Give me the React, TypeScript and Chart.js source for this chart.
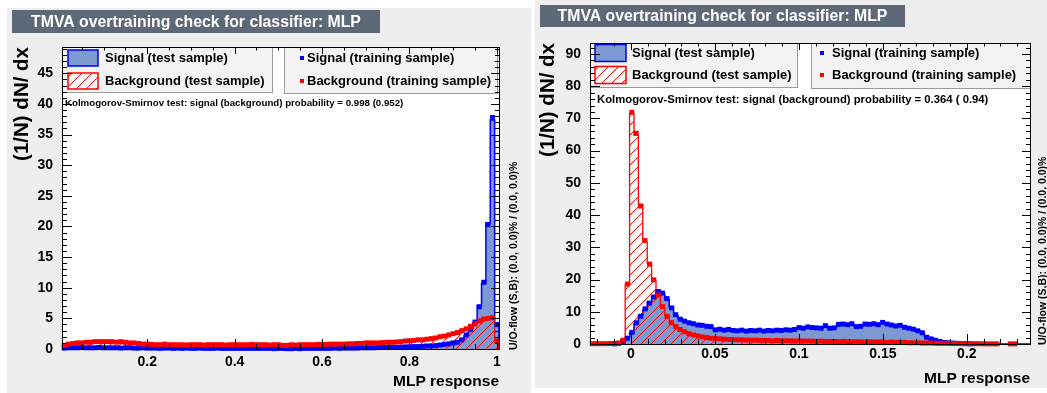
import React, { useEffect, useRef } from "react";
import { Chart, registerables } from "chart.js";

Chart.register(...registerables);

const FONT = '"Liberation Sans", Arial, Helvetica, sans-serif';

// ---------------- Left panel data (100 bins, MLP response 0.005 .. 1.005) ----------------
const leftRange = [0.005, 1.005];
const leftYMax = 49.3;

const leftSignalTest = [
  0.2, 0.2, 0.15, 0.25, 0.2, 0.2, 0.25, 0.2, 0.2, 0.2,
  0.15, 0.2, 0.2, 0.2, 0.15, 0.2, 0.2, 0.15, 0.15, 0.15,
  0.15, 0.1, 0.15, 0.15, 0.1, 0.15, 0.1, 0.15, 0.1, 0.1,
  0.15, 0.1, 0.1, 0.1, 0.15, 0.1, 0.1, 0.1, 0.1, 0.1,
  0.1, 0.1, 0.1, 0.05, 0.1, 0.1, 0.1, 0.1, 0.1, 0.1,
  0.05, 0.1, 0.1, 0.05, 0.1, 0.1, 0.1, 0.05, 0.1, 0.1,
  0.1, 0.15, 0.1, 0.15, 0.1, 0.15, 0.15, 0.2, 0.15, 0.2,
  0.2, 0.25, 0.2, 0.25, 0.3, 0.25, 0.3, 0.35, 0.3, 0.35,
  0.4, 0.45, 0.45, 0.5, 0.55, 0.6, 0.7, 0.8, 0.9, 1.1,
  1.2, 1.6, 2.2, 3.3, 4.3, 7.1, 10.7, 20.6, 37.4, 4.2,
];
const leftBackgroundTest = [
  0.7, 0.8, 1.0, 0.9, 1.1, 1.0, 1.2, 1.1, 1.2, 1.3,
  1.1, 1.2, 1.2, 1.1, 1.0, 1.1, 0.9, 0.9, 0.9, 0.7,
  0.7, 0.75, 0.7, 0.7, 0.75, 0.65, 0.7, 0.7, 0.7, 0.65,
  0.7, 0.75, 0.7, 0.65, 0.7, 0.7, 0.65, 0.7, 0.7, 0.75,
  0.65, 0.7, 0.7, 0.7, 0.7, 0.75, 0.65, 0.7, 0.7, 0.65,
  0.65, 0.6, 0.65, 0.7, 0.7, 0.65, 0.7, 0.75, 0.7, 0.8,
  0.8, 0.75, 0.8, 0.85, 0.8, 0.8, 0.9, 0.85, 0.95, 0.95,
  1.0, 1.05, 1.0, 1.1, 1.05, 1.15, 1.2, 1.2, 1.25, 1.35,
  1.45, 1.45, 1.55, 1.6, 1.75, 1.85, 1.95, 2.2, 2.3, 2.4,
  2.6, 2.9, 3.4, 3.8, 4.2, 4.5, 4.8, 4.9, 5.0, 1.4,
];
const leftSignalTrain = [
  0.15, 0.2, 0.2, 0.2, 0.25, 0.2, 0.2, 0.2, 0.25, 0.2,
  0.2, 0.2, 0.2, 0.15, 0.2, 0.2, 0.15, 0.15, 0.2, 0.15,
  0.15, 0.15, 0.1, 0.15, 0.15, 0.1, 0.15, 0.1, 0.15, 0.1,
  0.1, 0.15, 0.1, 0.1, 0.1, 0.15, 0.1, 0.1, 0.1, 0.1,
  0.1, 0.1, 0.1, 0.1, 0.1, 0.1, 0.1, 0.1, 0.05, 0.1,
  0.1, 0.05, 0.05, 0.1, 0.05, 0.1, 0.1, 0.1, 0.1, 0.1,
  0.1, 0.1, 0.15, 0.1, 0.15, 0.15, 0.15, 0.15, 0.2, 0.2,
  0.2, 0.2, 0.25, 0.25, 0.25, 0.3, 0.3, 0.3, 0.35, 0.35,
  0.4, 0.4, 0.45, 0.5, 0.5, 0.55, 0.65, 0.75, 0.85, 1.0,
  1.1, 1.5, 2.3, 3.2, 4.4, 6.9, 10.9, 20.3, 37.8, 4.0,
];
const leftBackgroundTrain = [
  0.6, 0.8, 0.9, 1.0, 1.0, 1.1, 1.1, 1.2, 1.2, 1.2,
  1.2, 1.2, 1.1, 1.2, 1.1, 1.0, 1.0, 0.9, 0.8, 0.8,
  0.75, 0.7, 0.7, 0.8, 0.7, 0.7, 0.7, 0.7, 0.65, 0.7,
  0.7, 0.7, 0.65, 0.7, 0.7, 0.7, 0.7, 0.65, 0.7, 0.7,
  0.7, 0.7, 0.7, 0.75, 0.7, 0.7, 0.7, 0.65, 0.7, 0.7,
  0.6, 0.6, 0.7, 0.65, 0.7, 0.7, 0.7, 0.7, 0.75, 0.75,
  0.75, 0.8, 0.8, 0.8, 0.8, 0.85, 0.85, 0.9, 0.9, 1.0,
  1.0, 1.0, 1.0, 1.05, 1.1, 1.1, 1.15, 1.2, 1.3, 1.35,
  1.4, 1.5, 1.5, 1.6, 1.7, 1.8, 2.0, 2.1, 2.3, 2.5,
  2.7, 3.0, 3.3, 3.7, 4.1, 4.6, 4.9, 5.0, 5.1, 1.3,
];
const leftKS = "Kolmogorov-Smirnov test: signal (background) probability = 0.998 (0.952)";

// ---------------- Right panel data (100 bins, MLP response -0.0244 .. 0.2376) ----------------
const rightRange = [-0.0244, 0.2376];
const rightYMax = 93.4;

const rightSignalTest = [
  0, 0, 0, 0, 0, 0.05, 0.15, 0.7, 2.0, 3.4,
  6.3, 8.9, 10.6, 13.0, 14.9, 16.6, 15.5, 13.8, 11.5, 8.8,
  7.9, 6.9, 6.7, 6.1, 6.0, 5.6, 5.6, 5.2, 4.3, 4.5,
  4.4, 4.3, 4.3, 4.0, 4.2, 4.1, 4.1, 4.2, 4.2, 4.1,
  4.1, 4.2, 4.2, 4.3, 4.3, 4.4, 4.4, 4.9, 5.0, 5.2,
  5.2, 4.9, 5.0, 5.5, 5.0, 5.1, 5.9, 6.0, 6.1, 6.1,
  5.5, 5.6, 6.0, 6.2, 6.2, 6.1, 6.5, 6.3, 5.8, 5.7,
  5.6, 5.3, 4.8, 4.5, 4.0, 3.6, 2.4, 1.8, 1.3, 0.9,
  0.6, 0.4, 0.3, 0.25, 0.15, 0.1, 0.05, 0.05, 0, 0,
  0, 0, 0, 0, 0, 0, 0, 0, 0, 0,
];
const rightBackgroundTest = [
  0.1, 0.1, 0.1, 0.1, 0.1, 0.2, 0.4, 1.4, 18.3, 71.5,
  64.8, 43.3, 31.6, 25.2, 19.5, 15.6, 11.2, 8.9, 6.4, 5.5,
  4.4, 3.9, 3.1, 2.7, 2.5, 2.2, 1.9, 1.8, 1.7, 1.5,
  1.5, 1.4, 1.3, 1.3, 1.3, 1.2, 1.1, 1.2, 1.1, 1.1,
  1.0, 1.1, 1.0, 1.0, 1.0, 0.9, 1.0, 0.9, 0.9, 0.9,
  0.8, 0.9, 0.8, 0.8, 0.8, 0.7, 0.8, 0.7, 0.7, 0.7,
  0.7, 0.6, 0.7, 0.6, 0.6, 0.6, 0.5, 0.6, 0.5, 0.5,
  0.5, 0.4, 0.4, 0.4, 0.35, 0.3, 0.3, 0.25, 0.2, 0.2,
  0.2, 0.15, 0.15, 0.1, 0.1, 0.1, 0.1, 0.05, 0.05, 0.05,
  0.05, 0.05, 0, 0, 0.05, 0.05, 0, 0, 0, 0,
];
const rightSignalTrain = [
  0, 0, 0, 0, 0, 0.05, 0.2, 0.6, 1.8, 3.6,
  6.6, 8.6, 10.9, 12.7, 14.6, 16.3, 15.8, 14.1, 11.2, 9.1,
  7.7, 7.1, 6.6, 6.3, 5.9, 5.8, 5.5, 5.4, 4.4, 4.6,
  4.3, 4.5, 4.2, 4.1, 4.3, 4.0, 4.2, 4.1, 4.3, 4.0,
  4.2, 4.1, 4.3, 4.2, 4.4, 4.3, 4.5, 5.1, 4.9, 5.3,
  5.1, 5.0, 4.9, 5.7, 4.9, 5.0, 6.1, 6.2, 6.0, 6.3,
  5.4, 5.5, 6.2, 6.1, 6.3, 6.0, 6.7, 6.2, 5.9, 5.6,
  5.8, 5.2, 4.9, 4.6, 4.1, 3.5, 2.1, 1.6, 1.2, 0.8,
  0.5, 0.4, 0.3, 0.2, 0.15, 0.1, 0.05, 0, 0, 0,
  0, 0, 0, 0, 0, 0, 0, 0, 0, 0,
];
const rightBackgroundTrain = [
  0.1, 0.1, 0.1, 0.1, 0.15, 0.15, 0.3, 1.2, 18.6, 71.9,
  65.4, 42.8, 32.1, 24.8, 19.9, 15.2, 11.6, 8.6, 6.6, 5.4,
  4.5, 3.8, 3.2, 2.8, 2.5, 2.2, 2.0, 1.8, 1.7, 1.6,
  1.5, 1.4, 1.4, 1.3, 1.3, 1.2, 1.2, 1.2, 1.1, 1.1,
  1.1, 1.0, 1.1, 1.0, 1.0, 1.0, 0.9, 1.0, 0.9, 0.9,
  0.9, 0.8, 0.9, 0.8, 0.8, 0.8, 0.7, 0.8, 0.7, 0.7,
  0.7, 0.7, 0.6, 0.7, 0.6, 0.6, 0.6, 0.5, 0.6, 0.5,
  0.5, 0.5, 0.4, 0.4, 0.4, 0.3, 0.3, 0.3, 0.25, 0.2,
  0.2, 0.2, 0.15, 0.15, 0.1, 0.1, 0.1, 0.1, 0.1, 0.05,
  0.05, 0.05, 0.05, 0, 0, 0.05, 0.05, 0, 0, 0,
];
const rightKS = "Kolmogorov-Smirnov test: signal (background) probability = 0.364 ( 0.94)";

// ---------------- Shared text ----------------
const titleText = "TMVA overtraining check for classifier: MLP";
const xTitle = "MLP response";
const yTitle = "(1/N) dN/ dx";
const uoText = "U/O-flow (S,B): (0.0, 0.0)% / (0.0, 0.0)%";
const legendLabels = [
  "Signal (test sample)",
  "Background (test sample)",
  "Signal (training sample)",
  "Background (training sample)",
];

// ---------------- Styles ----------------
const PANEL_BG = "#eeeeee";
const TITLE_BG = "#5e6978";
const SIG_FILL = "#7d99d1";
const SIG_LINE = "#0000ee";
const SIG_MARK = "#0000ff";
const BKG_LINE = "#ff0000";
const BKG_MARK = "#ff0000";

type Box = { x: number; y: number; w: number; h: number };
type PanelConfig = {
  left: number; top: number; width: number; height: number;
  frame: { left: number; top: number; right: number; bottom: number };
  range: number[]; yMax: number;
  xMajor: number; xMinor: number; yMajor: number; yMinor: number;
  signalTest: number[]; backgroundTest: number[]; signalTrain: number[]; backgroundTrain: number[];
  titleBox: Box;
  leg1: Box; leg2: Box; rows: number[]; iconX: number; iconW: number; iconH: number;
  textX: number; dotX: number; text2X: number;
  ks: string; ksX: number; ksY: number; ksSize: number;
  uoX: number; uoY: number;
  xTickPad: number; yTickPad: number; yTitlePad: number; xTitlePad: number;
};

const leftCfg: PanelConfig = {
  left: 7, top: 8, width: 524, height: 385,
  frame: { left: 55, top: 39, right: 492, bottom: 341 },
  range: leftRange, yMax: leftYMax,
  xMajor: 0.2, xMinor: 0.05, yMajor: 5, yMinor: 1,
  signalTest: leftSignalTest, backgroundTest: leftBackgroundTest,
  signalTrain: leftSignalTrain, backgroundTrain: leftBackgroundTrain,
  titleBox: { x: 5, y: 2, w: 368, h: 23 },
  leg1: { x: 55, y: 39, w: 210, h: 45 }, leg2: { x: 277, y: 39, w: 213, h: 46 },
  rows: [50, 73], iconX: 61, iconW: 30, iconH: 16,
  textX: 98, dotX: 295, text2X: 300,
  ks: leftKS, ksX: 58, ksY: 95, ksSize: 9.7,
  uoX: 507, uoY: 342,
  xTickPad: 5, yTickPad: 9, yTitlePad: 3, xTitlePad: 2,
};

const rightCfg: PanelConfig = {
  left: 535, top: 0, width: 512, height: 388,
  frame: { left: 55, top: 43, right: 495, bottom: 344 },
  range: rightRange, yMax: rightYMax,
  xMajor: 0.05, xMinor: 0.01, yMajor: 10, yMinor: 2,
  signalTest: rightSignalTest, backgroundTest: rightBackgroundTest,
  signalTrain: rightSignalTrain, backgroundTrain: rightBackgroundTrain,
  titleBox: { x: 5, y: 5, w: 365, h: 22 },
  leg1: { x: 55, y: 43, w: 207, h: 44 }, leg2: { x: 276, y: 43, w: 219, h: 45 },
  rows: [53, 75], iconX: 60, iconW: 31, iconH: 17,
  textX: 97, dotX: 287, text2X: 297,
  ks: rightKS, ksX: 62, ksY: 100, ksSize: 11.3,
  uoX: 508, uoY: 345,
  xTickPad: 2, yTickPad: 9, yTitlePad: 1, xTitlePad: 0,
};

const fmt = (v: number) => String(parseFloat(Number(v).toFixed(4)));

function makeTicks(min: number, max: number, step: number) {
  const out: { value: number }[] = [];
  const k0 = Math.ceil(min / step - 1e-9);
  for (let k = k0; k * step <= max + 1e-9; k++) out.push({ value: parseFloat((k * step).toFixed(6)) });
  return out;
}

function histPoints(values: number[], xMin: number, w: number) {
  const pts: { x: number; y: number }[] = [{ x: xMin, y: 0 }];
  values.forEach((v, i) => pts.push({ x: xMin + i * w, y: v }));
  const end = xMin + values.length * w;
  pts.push({ x: end, y: values[values.length - 1] });
  pts.push({ x: end, y: 0 });
  return pts;
}

function markerPoints(values: number[], xMin: number, w: number) {
  const pts: { x: number; y: number }[] = [];
  values.forEach((v, i) => {
    if (v > 0) pts.push({ x: xMin + (i + 0.5) * w, y: v });
  });
  return pts;
}

function makeHatch(color: string) {
  const c = document.createElement("canvas");
  c.width = 10;
  c.height = 10;
  const g = c.getContext("2d")!;
  g.strokeStyle = color;
  g.lineWidth = 1;
  g.beginPath();
  g.moveTo(0, 10); g.lineTo(10, 0);
  g.moveTo(-5, 5); g.lineTo(5, -5);
  g.moveTo(5, 15); g.lineTo(15, 5);
  g.stroke();
  return g.createPattern(c, "repeat");
}

function panelPlugin(cfg: PanelConfig, hatch: any) {
  return {
    id: "tmvaPanel",
    beforeDraw(chart: any) {
      const { ctx, chartArea: a } = chart;
      ctx.save();
      ctx.fillStyle = PANEL_BG;
      ctx.fillRect(0, 0, chart.width, chart.height);
      ctx.fillStyle = "#ffffff";
      ctx.fillRect(a.left, a.top, a.right - a.left, a.bottom - a.top);
      const t = cfg.titleBox;
      ctx.fillStyle = TITLE_BG;
      ctx.fillRect(t.x, t.y, t.w, t.h);
      ctx.fillStyle = "#ffffff";
      ctx.font = `bold 15.8px ${FONT}`;
      ctx.textAlign = "center";
      ctx.textBaseline = "middle";
      ctx.fillText(titleText, t.x + t.w / 2, t.y + t.h / 2 + 1);
      ctx.restore();
    },
    afterDatasetsDraw(chart: any) {
      const { ctx, chartArea: a } = chart;
      const xs = chart.scales.x;
      const ys = chart.scales.y;
      ctx.save();
      // legends
      for (const b of [cfg.leg1, cfg.leg2]) {
        ctx.fillStyle = "#f3f3f3";
        ctx.fillRect(b.x, b.y, b.w, b.h);
        ctx.strokeStyle = "#9a9a9a";
        ctx.lineWidth = 1;
        ctx.strokeRect(b.x + 0.5, b.y + 0.5, b.w, b.h);
      }
      const [r1, r2] = cfg.rows;
      ctx.fillStyle = SIG_FILL;
      ctx.fillRect(cfg.iconX, r1 - cfg.iconH / 2, cfg.iconW, cfg.iconH);
      ctx.strokeStyle = SIG_LINE;
      ctx.lineWidth = 1.5;
      ctx.strokeRect(cfg.iconX, r1 - cfg.iconH / 2, cfg.iconW, cfg.iconH);
      ctx.fillStyle = "#ffffff";
      ctx.fillRect(cfg.iconX, r2 - cfg.iconH / 2, cfg.iconW, cfg.iconH);
      ctx.fillStyle = hatch;
      ctx.fillRect(cfg.iconX, r2 - cfg.iconH / 2, cfg.iconW, cfg.iconH);
      ctx.strokeStyle = BKG_LINE;
      ctx.strokeRect(cfg.iconX, r2 - cfg.iconH / 2, cfg.iconW, cfg.iconH);
      ctx.fillStyle = SIG_MARK;
      ctx.fillRect(cfg.dotX - 2, r1 - 2, 4, 4);
      ctx.fillStyle = BKG_MARK;
      ctx.fillRect(cfg.dotX - 2, r2 - 2, 4, 4);
      ctx.fillStyle = "#000000";
      ctx.font = `bold 13px ${FONT}`;
      ctx.textAlign = "left";
      ctx.textBaseline = "middle";
      ctx.fillText(legendLabels[0], cfg.textX, r1);
      ctx.fillText(legendLabels[1], cfg.textX, r2);
      ctx.fillText(legendLabels[2], cfg.text2X, r1);
      ctx.fillText(legendLabels[3], cfg.text2X, r2);
      // KS text
      ctx.font = `bold ${cfg.ksSize}px ${FONT}`;
      ctx.fillText(cfg.ks, cfg.ksX, cfg.ksY);
      // under/overflow text
      ctx.save();
      ctx.translate(cfg.uoX, cfg.uoY);
      ctx.rotate(-Math.PI / 2);
      ctx.font = `bold 10.5px ${FONT}`;
      ctx.fillText(uoText, 0, 0);
      ctx.restore();
      // frame
      ctx.strokeStyle = "#000000";
      ctx.lineWidth = 1;
      ctx.strokeRect(Math.round(a.left) + 0.5, Math.round(a.top) + 0.5, Math.round(a.right - a.left), Math.round(a.bottom - a.top));
      ctx.beginPath();
      const isMajor = (v: number, step: number) => Math.abs(v / step - Math.round(v / step)) < 1e-6;
      for (const t of makeTicks(xs.min, xs.max, cfg.xMinor)) {
        const len = isMajor(t.value, cfg.xMajor) ? 10 : 5;
        const px = Math.round(xs.getPixelForValue(t.value)) + 0.5;
        ctx.moveTo(px, a.bottom); ctx.lineTo(px, a.bottom - len);
        ctx.moveTo(px, a.top); ctx.lineTo(px, a.top + len * 0.7);
      }
      for (const t of makeTicks(0, ys.max, cfg.yMinor)) {
        const len = isMajor(t.value, cfg.yMajor) ? 10 : 5;
        const py = Math.round(ys.getPixelForValue(t.value)) + 0.5;
        ctx.moveTo(a.left, py); ctx.lineTo(a.left + len, py);
        ctx.moveTo(a.right, py); ctx.lineTo(a.right - len * 0.8, py);
      }
      ctx.stroke();
      ctx.restore();
    },
  };
}

function Panel({ cfg }: { cfg: PanelConfig }) {
  const ref = useRef<HTMLCanvasElement>(null);
  useEffect(() => {
    const canvas = ref.current;
    if (!canvas) return;
    const [xMin, xMax] = cfg.range;
    const n = cfg.signalTest.length;
    const w = (xMax - xMin) / n;
    const hatch = makeHatch(BKG_LINE);
    const tickFont = { family: FONT, size: 14, weight: "bold" as const };
    const f = cfg.frame;
    const chart = new Chart(canvas, {
      type: "line",
      data: {
        datasets: [
          {
            type: "scatter",
            label: legendLabels[3],
            data: markerPoints(cfg.backgroundTrain, xMin, w),
            showLine: false,
            pointStyle: "rect",
            pointRadius: 3.5,
            pointBorderWidth: 0,
            pointBackgroundColor: BKG_MARK,
            backgroundColor: BKG_MARK,
            borderColor: BKG_MARK,
            order: 0,
            clip: 6,
          },
          {
            type: "scatter",
            label: legendLabels[2],
            data: markerPoints(cfg.signalTrain, xMin, w),
            showLine: false,
            pointStyle: "rect",
            pointRadius: 3.5,
            pointBorderWidth: 0,
            pointBackgroundColor: SIG_MARK,
            backgroundColor: SIG_MARK,
            borderColor: SIG_MARK,
            order: 1,
            clip: 6,
          },
          {
            type: "line",
            label: legendLabels[1],
            data: histPoints(cfg.backgroundTest, xMin, w),
            stepped: true,
            pointRadius: 0,
            borderColor: BKG_LINE,
            borderWidth: 1.3,
            backgroundColor: hatch as any,
            fill: "origin",
            order: 2,
          },
          {
            type: "line",
            label: legendLabels[0],
            data: histPoints(cfg.signalTest, xMin, w),
            stepped: true,
            pointRadius: 0,
            borderColor: SIG_LINE,
            borderWidth: 1.5,
            backgroundColor: SIG_FILL,
            fill: "origin",
            order: 3,
          },
        ],
      },
      options: {
        responsive: false,
        animation: false,
        events: [],
        layout: {
          padding: { left: 0, top: f.top, right: cfg.width - f.right, bottom: 0 },
          autoPadding: false,
        },
        plugins: { legend: { display: false }, tooltip: { enabled: false } },
        scales: {
          x: {
            type: "linear",
            min: xMin,
            max: xMax,
            grid: { display: false, drawTicks: false },
            border: { display: false },
            ticks: {
              autoSkip: false,
              maxRotation: 0,
              padding: cfg.xTickPad,
              color: "#000",
              font: tickFont,
              callback: (v: any) => fmt(v),
            },
            afterBuildTicks: (s: any) => { s.ticks = makeTicks(xMin, xMax, cfg.xMajor); },
            afterFit: (s: any) => { s.height = cfg.height - f.bottom; },
            title: {
              display: true,
              text: xTitle,
              align: "end",
              color: "#000",
              font: { family: FONT, size: 15.5, weight: "bold" },
              padding: { top: 0, bottom: cfg.xTitlePad },
            },
          },
          y: {
            type: "linear",
            min: 0,
            max: cfg.yMax,
            grid: { display: false, drawTicks: false },
            border: { display: false },
            ticks: {
              autoSkip: false,
              padding: cfg.yTickPad,
              color: "#000",
              font: tickFont,
              callback: (v: any) => fmt(v),
            },
            afterBuildTicks: (s: any) => { s.ticks = makeTicks(0, cfg.yMax, cfg.yMajor); },
            afterFit: (s: any) => { s.width = f.left; },
            title: {
              display: true,
              text: yTitle,
              align: "end",
              color: "#000",
              font: { family: FONT, size: 20.5, weight: "bold" },
              padding: { top: cfg.yTitlePad, bottom: 0 },
            },
          },
        },
      } as any,
      plugins: [panelPlugin(cfg, hatch)],
    });
    return () => chart.destroy();
  }, [cfg]);
  return (
    <div style={{ position: "absolute", left: cfg.left, top: cfg.top, width: cfg.width, height: cfg.height }}>
      <canvas ref={ref} width={cfg.width} height={cfg.height} style={{ display: "block", width: cfg.width, height: cfg.height }} />
    </div>
  );
}

export default function App() {
  return (
    <div style={{ position: "fixed", left: 0, top: 0, width: 1047, height: 393, background: "#ffffff", overflow: "hidden" }}>
      <Panel cfg={leftCfg} />
      <Panel cfg={rightCfg} />
    </div>
  );
}
